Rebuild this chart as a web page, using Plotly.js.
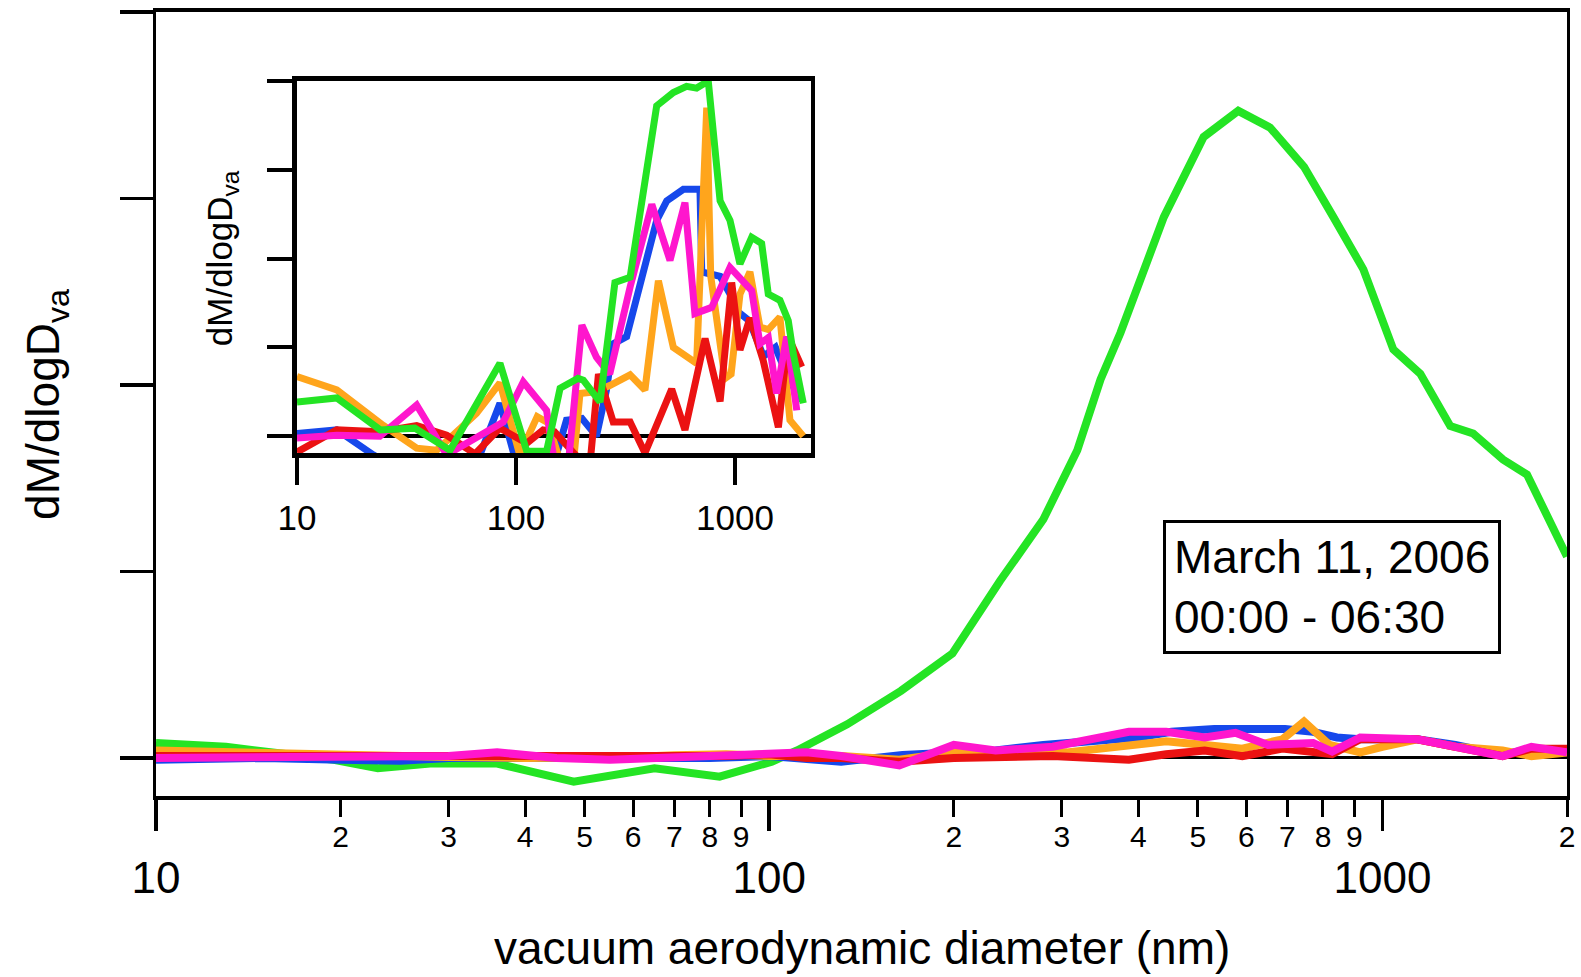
<!DOCTYPE html>
<html><head><meta charset="utf-8">
<script src="https://cdn.plot.ly/plotly-3.0.1.min.js"></script>
<style>html,body{margin:0;padding:0;background:#fff}</style>
</head><body>
<div id="chart" style="width:1581px;height:977px"></div>
<script>
const FONT = 'Liberation Sans, Arial, sans-serif';

// ---- main panel data (diameter nm, dM/dlogDva) ----
const mainGreenX = [10, 13, 19.5, 23, 28, 36, 48, 65, 83, 101, 111, 134, 164, 199, 238, 280, 318, 347, 374, 440, 511, 582, 656, 745, 832, 931, 1042, 1153, 1290, 1406, 1573, 1721, 2000];
const mainGreenY = [0.08, 0.06, -0.01, -0.055, -0.03, -0.03, -0.127, -0.055, -0.1, -0.02, 0.04, 0.18, 0.36, 0.56, 0.95, 1.28, 1.65, 2.03, 2.28, 2.9, 3.33, 3.47, 3.38, 3.17, 2.9, 2.62, 2.19, 2.06, 1.78, 1.74, 1.6, 1.52, 1.08];

const mainBlueX = [10, 15, 20, 25, 30, 40, 50, 60, 80, 100, 131, 165, 234, 280, 398, 453, 532, 694, 771, 843, 920, 1140, 1315, 1570, 1750, 2000];
const mainBlueY = [-0.01, 0.0, -0.01, -0.015, 0.0, 0.0, -0.01, -0.01, 0.0, 0.01, -0.02, 0.016, 0.04, 0.07, 0.11, 0.14, 0.155, 0.155, 0.14, 0.11, 0.1, 0.1, 0.07, 0.016, 0.05, 0.03];

const mainOrangeX = [10, 15, 20, 30, 40, 50, 60, 70, 85, 100, 131, 163, 200, 306, 444, 513, 591, 687, 745, 820, 920, 1000, 1140, 1315, 1570, 1750, 2000];
const mainOrangeY = [0.04, 0.025, 0.015, 0.005, 0.0, 0.0, 0.005, 0.015, 0.02, 0.01, 0.01, -0.01, 0.03, 0.03, 0.09, 0.07, 0.05, 0.1, 0.195, 0.07, 0.03, 0.06, 0.1, 0.06, 0.04, 0.01, 0.03];

const mainRedX = [10, 15, 20, 30, 40, 50, 70, 85, 100, 115, 131, 163, 200, 290, 386, 444, 513, 591, 687, 828, 920, 1140, 1315, 1570, 1750, 2000];
const mainRedY = [0.01, 0.01, 0.005, 0.005, 0.01, 0.0, 0.005, 0.01, 0.02, 0.0, 0.0, -0.02, 0.0, 0.01, -0.01, 0.02, 0.04, 0.01, 0.05, 0.02, 0.1, 0.1, 0.06, 0.01, 0.05, 0.05];

const mainPinkX = [10, 15, 20, 25, 30, 36, 45, 55, 70, 85, 100, 115, 131, 163, 200, 234, 290, 386, 444, 513, 576, 651, 771, 828, 920, 1140, 1315, 1570, 1750, 2000];
const mainPinkY = [0.0, 0.0, 0.0, 0.0, 0.01, 0.03, 0.0, -0.01, 0.0, 0.01, 0.02, 0.03, 0.01, -0.04, 0.07, 0.04, 0.06, 0.14, 0.14, 0.11, 0.135, 0.07, 0.08, 0.034, 0.11, 0.1, 0.06, 0.01, 0.06, 0.03];

// ---- inset data ----
const insGreenX = [10, 15.2, 24, 34.5, 50, 84.5, 112, 138, 159, 192, 203, 242, 283, 332, 439, 523, 601, 668, 755, 855, 949, 1054, 1192, 1324, 1419, 1604, 1751, 1845, 2050];
const insGreenY = [0.385, 0.43, 0.07, 0.09, -0.16, 0.82, -0.17, -0.17, 0.54, 0.65, 0.63, 0.385, 1.73, 1.79, 3.72, 3.87, 3.94, 3.92, 4.0, 2.65, 2.43, 1.94, 2.24, 2.17, 1.6, 1.53, 1.3, 0.93, 0.37];

const insOrangeX = [10, 15.2, 24.8, 35.2, 43.4, 66, 84.5, 104, 125, 140, 160, 183, 196, 230, 268, 332, 388, 447, 523, 668, 743, 775, 900, 960, 1054, 1170, 1300, 1420, 1604, 1782, 2050];
const insOrangeY = [0.67, 0.52, 0.12, -0.135, -0.16, 0.255, 0.6, -0.21, 0.22, 0.15, -0.3, -0.3, 0.48, 0.5, 0.57, 0.69, 0.52, 1.75, 1.0, 0.82, 3.7, 1.8, 0.65, 0.7, 1.6, 1.85, 1.23, 1.2, 1.34, 0.18, 0.0];

const insBlueX = [10, 15.2, 22.3, 30, 50, 68.5, 84.5, 98, 120, 153, 170, 200, 233, 259, 278, 320, 439, 488, 581, 692, 705, 855, 949, 1021, 1161, 1349, 1530, 1744, 2017];
const insBlueY = [0.03, 0.07, -0.21, -0.4, -0.4, -0.21, 0.37, -0.21, -0.4, -0.21, 0.18, 0.2, 0.0, 0.52, 1.04, 1.12, 2.43, 2.65, 2.78, 2.78, 1.85, 1.8, 1.6, 1.41, 1.3, 0.9, 1.0, 0.66, 0.4];

const insPinkX = [10, 15.2, 23.9, 35.2, 48.3, 68.5, 87.5, 108, 138, 148, 160, 175, 200, 233, 268, 332, 417, 505, 591, 656, 783, 949, 1192, 1300, 1419, 1549, 1722, 1915];
const insPinkY = [-0.02, 0.01, 0.0, 0.35, -0.21, 0.0, 0.16, 0.61, 0.29, -0.21, -0.4, -0.21, 1.25, 0.89, 0.7, 1.68, 2.61, 1.98, 2.63, 1.38, 1.45, 1.9, 1.64, 1.04, 1.11, 0.48, 1.12, 0.29];

const insRedX = [10, 15.2, 23.9, 35.2, 48.3, 65, 84.5, 112, 133, 150, 185, 205, 220, 238, 278, 332, 388, 514, 591, 730, 855, 966, 1054, 1170, 1346, 1578, 1751, 2017];
const insRedY = [-0.18, 0.07, 0.05, 0.12, 0.01, -0.2, 0.09, -0.08, 0.07, 0.05, -0.2, -0.3, -0.2, 0.7, 0.16, 0.16, -0.19, 0.53, 0.07, 1.1, 0.39, 1.73, 0.97, 1.33, 0.85, 0.1, 1.12, 0.78];

// ---- tick labels ----
const minorTickVals = [20, 30, 40, 50, 60, 70, 80, 90, 200, 300, 400, 500, 600, 700, 800, 900, 2000];
const minorTickText = ['2','3','4','5','6','7','8','9','2','3','4','5','6','7','8','9','2'];
const majorTickVals = [10, 100, 1000];
const majorTickText = ['10', '100', '1000'];
const yTickVals = [0, 1, 2, 3, 4];

const COL = {
  green: 'rgb(36,228,36)',
  blue: 'rgb(22,72,235)',
  orange: 'rgb(255,165,28)',
  red: 'rgb(235,18,18)',
  pink: 'rgb(255,22,205)'
};

function tr(x, y, color, xa, ya, w) {
  return {x: x, y: y, type: 'scatter', mode: 'lines', xaxis: xa, yaxis: ya,
          line: {color: color, width: w}, hoverinfo: 'skip', showlegend: false};
}

const data = [
  tr(mainGreenX, mainGreenY, COL.green, 'x', 'y', 8),
  tr(mainBlueX, mainBlueY, COL.blue, 'x', 'y', 8),
  tr(mainOrangeX, mainOrangeY, COL.orange, 'x', 'y', 8),
  tr(mainRedX, mainRedY, COL.red, 'x', 'y', 8),
  tr(mainPinkX, mainPinkY, COL.pink, 'x3', 'y', 8),
  tr(insBlueX, insBlueY, COL.blue, 'x2', 'y2', 7),
  tr(insOrangeX, insOrangeY, COL.orange, 'x2', 'y2', 7),
  tr(insRedX, insRedY, COL.red, 'x2', 'y2', 7),
  tr(insPinkX, insPinkY, COL.pink, 'x2', 'y2', 7),
  tr(insGreenX, insGreenY, COL.green, 'x2', 'y2', 7)
];

const logR = [1, Math.log10(2000)];

const layout = {
  width: 1581, height: 977,
  margin: {l: 156, r: 14, t: 12, b: 181},
  paper_bgcolor: '#fff', plot_bgcolor: '#fff',
  font: {family: FONT, color: '#000'},
  showlegend: false,
  xaxis: {
    type: 'log', range: logR, domain: [0, 1], anchor: 'y',
    tickmode: 'array', tickvals: minorTickVals, ticktext: minorTickText,
    ticks: 'outside', ticklen: 17, tickwidth: 3, tickcolor: '#000',
    tickfont: {size: 30, family: FONT, color: '#000'}, ticklabelstandoff: -6,
    showline: true, linewidth: 4, linecolor: '#000', mirror: true,
    showgrid: false, zeroline: false, fixedrange: true
  },
  xaxis3: {
    type: 'log', range: logR, overlaying: 'x', anchor: 'y', side: 'bottom',
    tickmode: 'array', tickvals: majorTickVals, ticktext: majorTickText,
    ticks: 'outside', ticklen: 34, tickwidth: 3.5, tickcolor: '#000',
    tickfont: {size: 44, family: FONT, color: '#000'}, ticklabelstandoff: 9,
    showline: false, showgrid: false, zeroline: false, fixedrange: true
  },
  yaxis: {
    range: [-0.204, 4], domain: [0, 1], anchor: 'x',
    tickmode: 'array', tickvals: yTickVals, showticklabels: false,
    ticks: 'outside', ticklen: 33, tickwidth: 3.5, tickcolor: '#000',
    showline: true, linewidth: 3, linecolor: '#000', mirror: true,
    showgrid: false, zeroline: true, zerolinewidth: 3, zerolinecolor: '#000', fixedrange: true
  },
  xaxis2: {
    type: 'log', range: [1, 3.347], domain: [0.0999, 0.4642], anchor: 'y2',
    tickmode: 'array', tickvals: majorTickVals, ticktext: majorTickText,
    ticks: 'outside', ticklen: 27, tickwidth: 4, tickcolor: '#000',
    tickfont: {size: 35, family: FONT, color: '#000'}, ticklabelstandoff: 3,
    showline: true, linewidth: 4.5, linecolor: '#000', mirror: true,
    showgrid: false, zeroline: false, fixedrange: true
  },
  yaxis2: {
    range: [-0.19, 4], domain: [0.4375, 0.912], anchor: 'x2',
    tickmode: 'array', tickvals: yTickVals, showticklabels: false,
    ticks: 'outside', ticklen: 25, tickwidth: 4, tickcolor: '#000',
    showline: true, linewidth: 4.5, linecolor: '#000', mirror: true,
    showgrid: false, zeroline: true, zerolinewidth: 4, zerolinecolor: '#000', fixedrange: true
  },
  annotations: [
    {text: 'vacuum aerodynamic diameter (nm)', xref: 'paper', yref: 'paper',
     x: 0.5, y: -0.194, xanchor: 'center', yanchor: 'middle', showarrow: false,
     font: {size: 46, family: FONT, color: '#000'}},
    {text: 'dM/dlogD<sub>va</sub>', xref: 'paper', yref: 'paper',
     x: -0.078, y: 0.5, xanchor: 'center', yanchor: 'middle', showarrow: false, textangle: -90,
     font: {size: 46, family: FONT, color: '#000'}},
    {text: 'dM/dlogD<sub>va</sub>', xref: 'paper', yref: 'paper',
     x: 0.0468, y: 0.686, xanchor: 'center', yanchor: 'middle', showarrow: false, textangle: -90,
     font: {size: 35, family: FONT, color: '#000'}},
    {text: 'March 11, 2006<br>00:00 - 06:30', xref: 'paper', yref: 'paper',
     x: 0.8335, y: 0.2666, xanchor: 'center', yanchor: 'middle', showarrow: false, align: 'left',
     bordercolor: '#000', borderwidth: 3, borderpad: 8, bgcolor: '#fff',
     font: {size: 46, family: FONT, color: '#000'}}
  ]
};

Plotly.newPlot('chart', data, layout, {staticPlot: true, displayModeBar: false});
</script>
</body></html>
